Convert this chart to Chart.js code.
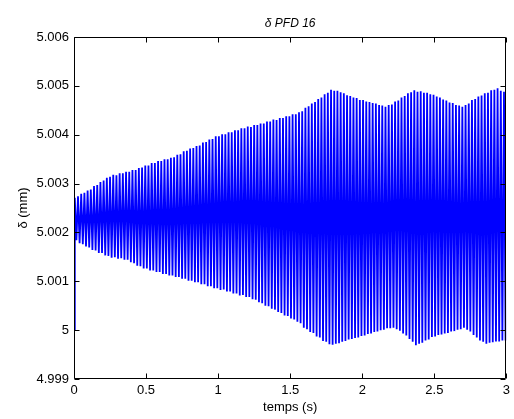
<!DOCTYPE html>
<html>
<head>
<meta charset="utf-8">
<script src="https://cdn.jsdelivr.net/npm/chart.js@4/dist/chart.umd.min.js"></script>
<style>
  html, body { margin: 0; padding: 0; background: #fff; }
  #wrap { width: 514px; height: 419px; }
</style>
</head>
<body>
<div id="wrap"><canvas id="chart" width="514" height="419"></canvas></div>
<script>
// displacement in mm = 5 + offset (µm) / 1000
const baseMm = 5;
const startMm = 5.000;
const duration = 3;          // s
const extremaCount = 270;    // peaks + troughs over the run

// upper peaks, µm above 5 mm
const peaksUm = [
  2.71,2.74,2.79,2.81,2.86,2.88,2.95,2.97,3.03,3.06,
  3.12,3.14,3.18,3.17,3.21,3.21,3.24,3.24,3.28,3.28,
  3.32,3.33,3.37,3.37,3.42,3.42,3.46,3.46,3.50,3.50,
  3.53,3.54,3.59,3.60,3.66,3.67,3.72,3.73,3.77,3.78,
  3.84,3.85,3.90,3.91,3.97,3.97,4.01,4.01,4.05,4.05,
  4.09,4.09,4.13,4.13,4.17,4.16,4.20,4.20,4.23,4.23,
  4.27,4.27,4.31,4.30,4.34,4.34,4.38,4.38,4.42,4.42,
  4.46,4.48,4.55,4.58,4.64,4.67,4.73,4.76,4.83,4.86,
  4.92,4.90,4.90,4.87,4.85,4.81,4.79,4.76,4.75,4.71,
  4.71,4.68,4.67,4.65,4.64,4.61,4.60,4.57,4.61,4.62,
  4.68,4.70,4.76,4.79,4.85,4.87,4.91,4.88,4.89,4.86,
  4.86,4.83,4.82,4.78,4.76,4.72,4.70,4.66,4.65,4.61,
  4.60,4.57,4.61,4.64,4.71,4.73,4.78,4.80,4.85,4.86,
  4.91,4.92,4.95,4.90,4.88
];

// lower troughs, µm above 5 mm
const troughsUm = [
  1.84,1.78,1.76,1.71,1.69,1.64,1.63,1.58,1.58,1.53,
  1.52,1.48,1.49,1.46,1.47,1.44,1.44,1.39,1.37,1.32,
  1.31,1.26,1.26,1.22,1.22,1.19,1.19,1.15,1.15,1.12,
  1.12,1.09,1.09,1.05,1.05,1.01,1.01,0.98,0.98,0.94,
  0.94,0.90,0.90,0.86,0.86,0.82,0.83,0.79,0.79,0.75,
  0.75,0.71,0.72,0.68,0.68,0.63,0.62,0.57,0.55,0.50,
  0.49,0.44,0.42,0.37,0.35,0.30,0.29,0.24,0.22,0.17,
  0.14,0.05,0.02,-0.04,-0.06,-0.13,-0.15,-0.22,-0.24,-0.29,
  -0.30,-0.28,-0.27,-0.24,-0.22,-0.19,-0.18,-0.16,-0.15,-0.12,
  -0.11,-0.08,-0.07,-0.04,-0.03,0.00,0.01,0.04,0.04,0.05,
  0.02,-0.01,-0.07,-0.11,-0.18,-0.24,-0.31,-0.28,-0.26,-0.21,
  -0.19,-0.14,-0.13,-0.10,-0.09,-0.07,-0.06,-0.03,-0.02,0.01,
  0.02,0.05,0.01,-0.03,-0.10,-0.15,-0.21,-0.24,-0.28,-0.26,
  -0.25,-0.23,-0.23,-0.21,-0.21
];

const xTicks = [0, 0.5, 1, 1.5, 2, 2.5, 3];
const yTicks = [4.999, 5.000, 5.001, 5.002, 5.003, 5.004, 5.005, 5.006];

// build the trace: start value, then peak / trough alternately
const step = duration / extremaCount;
const points = [{ x: 0, y: startMm }];
peaksUm.forEach((p, k) => {
  points.push({ x: (2 * k + 0.5) * step, y: baseMm + p / 1000 });
  points.push({ x: (2 * k + 1.5) * step, y: baseMm + troughsUm[k] / 1000 });
});

const FONT = '"Liberation Sans", Arial, sans-serif';

// MATLAB-like box with inward ticks, title and axis labels
const frame = {
  id: 'frame',
  afterDraw(chart) {
    const { ctx, chartArea: a, scales: { x, y } } = chart;
    const L = Math.round(a.left) + 0.5, R = Math.round(a.right) - 0.5;
    const T = Math.round(a.top) + 0.5, B = Math.round(a.bottom) - 0.5;
    ctx.save();
    ctx.strokeStyle = '#000';
    ctx.lineWidth = 1;
    ctx.beginPath();
    ctx.rect(L, T, R - L, B - T);
    xTicks.forEach(v => {
      const px = Math.round(x.getPixelForValue(v)) + 0.5;
      ctx.moveTo(px, B); ctx.lineTo(px, B - 5);
      ctx.moveTo(px, T); ctx.lineTo(px, T + 5);
    });
    yTicks.forEach(v => {
      const py = Math.round(y.getPixelForValue(v)) + 0.5;
      ctx.moveTo(L, py); ctx.lineTo(L + 5, py);
      ctx.moveTo(R, py); ctx.lineTo(R - 5, py);
    });
    ctx.stroke();

    ctx.fillStyle = '#000';
    ctx.textAlign = 'center';
    ctx.textBaseline = 'middle';
    const cx = (a.left + a.right) / 2;
    ctx.font = 'italic 12px ' + FONT;
    ctx.fillText('δ PFD 16', cx, 24);
    ctx.font = '13px ' + FONT;
    ctx.fillText('temps (s)', cx, 407);
    ctx.translate(23, (a.top + a.bottom) / 2);
    ctx.rotate(-Math.PI / 2);
    ctx.fillText('δ (mm)', 0, 0);
    ctx.restore();
  }
};

new Chart(document.getElementById('chart'), {
  type: 'line',
  data: {
    datasets: [{
      data: points,
      borderColor: '#0000ff',
      borderWidth: 1.8,
      pointRadius: 0,
      tension: 0,
      fill: false
    }]
  },
  options: {
    responsive: false,
    animation: false,
    layout: { padding: { top: 37, right: 7, left: 0, bottom: 0 } },
    plugins: { legend: { display: false }, tooltip: { enabled: false } },
    scales: {
      x: {
        type: 'linear',
        min: 0, max: 3,
        afterFit: s => { s.height = 40; },
        afterBuildTicks: s => { s.ticks = xTicks.map(v => ({ value: v })); },
        grid: { display: false, drawTicks: false },
        border: { display: false },
        ticks: { color: '#000', padding: 4, maxRotation: 0, font: { family: FONT, size: 13 },
                 callback: v => String(v) }
      },
      y: {
        type: 'linear',
        min: 4.999, max: 5.006,
        afterFit: s => { s.width = 74; },
        afterBuildTicks: s => { s.ticks = yTicks.map(v => ({ value: v })); },
        grid: { display: false, drawTicks: false },
        border: { display: false },
        ticks: { color: '#000', padding: 5, font: { family: FONT, size: 13 },
                 callback: v => String(Number(v.toFixed(3))) }
      }
    }
  },
  plugins: [frame]
});
</script>
</body>
</html>
